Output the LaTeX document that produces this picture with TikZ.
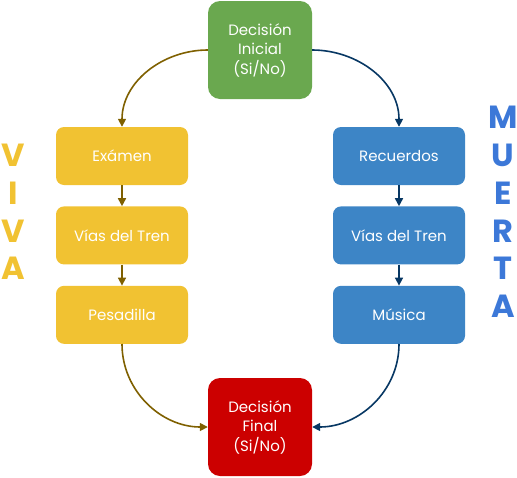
\documentclass[tikz,border=0pt]{standalone}
\usepackage{fontspec}
\setmainfont{Poppins}
\usetikzlibrary{positioning,arrows.meta}

\definecolor{verde}{HTML}{6AA84F}
\definecolor{amarillo}{HTML}{F1C232}
\definecolor{azul}{HTML}{3D85C6}
\definecolor{azultxt}{HTML}{3C78D8}
\definecolor{rojo}{HTML}{CC0000}
\definecolor{cafe}{HTML}{7F6000}
\definecolor{marino}{HTML}{073763}

\begin{document}
\begin{tikzpicture}[
  x=1pt, y=-1pt,
  node distance=21pt,
  decision/.style={rectangle, rounded corners=12pt, minimum width=104pt, minimum height=98pt,
    text=white, align=center, font=\fontsize{15}{19.5}\selectfont, inner sep=2pt},
  paso/.style={rectangle, rounded corners=8pt, minimum width=132pt, minimum height=58pt,
    text=white, align=center, font=\fontsize{15}{19.5}\selectfont, inner sep=2pt},
  vivo/.style={paso, fill=amarillo},
  muerto/.style={paso, fill=azul},
  flecha/.style={line width=1.6pt, -{Triangle[length=8pt,width=8pt]}},
  letras/.style={align=center, font=\fontsize{32}{37.7}\selectfont\bfseries, inner sep=0pt},
  ]
 \useasboundingbox (0,0) rectangle (517,477);

 \node [decision, fill=verde] (ini) at (260,50) {Decisión\\Inicial\\(Si/No)};
 \node [decision, fill=rojo] (fin) at (260,427) {Decisión\\Final\\(Si/No)};

 % camino viva
 \node [vivo] (exa) at (122,156) {Exámen};
 \node [vivo, below=of exa] (viaV) {Vías del Tren};
 \node [vivo, below=of viaV] (pes) {Pesadilla};

 % camino muerta
 \node [muerto] (rec) at (399,156) {Recuerdos};
 \node [muerto, below=of rec] (viaM) {Vías del Tren};
 \node [muerto, below=of viaM] (mus) {Música};

 \node [letras, text=amarillo] (viva) at (13,212) {V\\I\\V\\A};
 \node [letras, text=azultxt] (muerta) at (503,212) {M\\U\\E\\R\\T\\A};

 \draw [flecha, cafe] (ini.west) to[out=180, in=90] (exa.north);
 \draw [flecha, cafe] (exa) -- (viaV);
 \draw [flecha, cafe] (viaV) -- (pes);
 \draw [flecha, cafe] (pes.south) to[out=-90, in=180] (fin.west);

 \draw [flecha, marino] (ini.east) to[out=0, in=90] (rec.north);
 \draw [flecha, marino] (rec) -- (viaM);
 \draw [flecha, marino] (viaM) -- (mus);
 \draw [flecha, marino] (mus.south) to[out=-90, in=0] (fin.east);
\end{tikzpicture}
\end{document}
